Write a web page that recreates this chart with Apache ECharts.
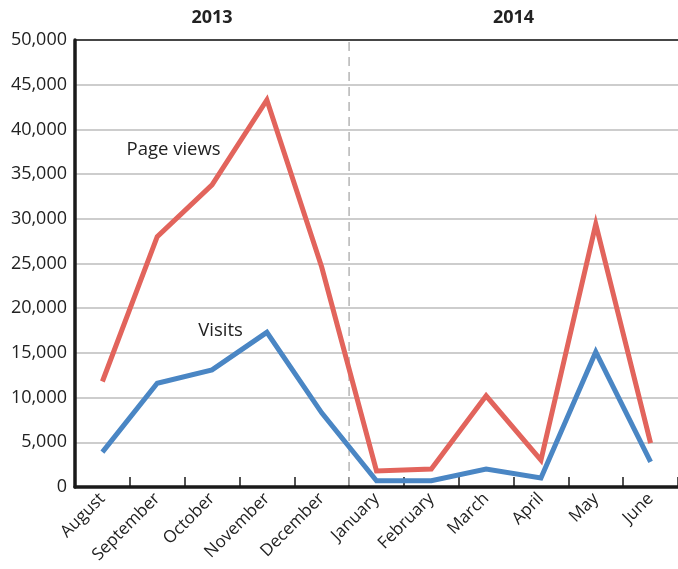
<!DOCTYPE html>
<html>
<head>
<meta charset="utf-8">
<script src="https://cdn.jsdelivr.net/npm/echarts@6/dist/echarts.min.js"></script>
<style>
  html, body { margin: 0; padding: 0; background: #fff; }
  #chart { width: 678px; height: 569px; }
</style>
</head>
<body>
<div id="chart"></div>
<script>
// Monthly site traffic, August 2013 – June 2014
const months = ['August', 'September', 'October', 'November', 'December',
                'January', 'February', 'March', 'April', 'May', 'June'];
const pageViews = [11800, 28000, 33800, 43300, 24600, 1800, 2000, 10200, 3000, 29400, 4900];
const visits = [3900, 11600, 13100, 17300, 8300, 700, 700, 2000, 1000, 15100, 2800];
const yearLabels = ['2013', '2014'];
const yearSplitIndex = 5; // first month of 2014

const FONT = '"Open Sans", "Noto Sans", sans-serif';
const RED = '#e2645c';
const BLUE = '#4a86c4';

const chart = echarts.init(document.getElementById('chart'), null, { renderer: 'canvas' });

const option = {
  animation: false,
  grid: { left: 75, top: 40, width: 607, bottom: 82, containLabel: false },
  xAxis: [
    {
      type: 'category',
      data: months,
      boundaryGap: true,
      axisLine: { lineStyle: { color: '#1a1a1a', width: 3.5 } },
      axisTick: { show: true, inside: true, length: 10, alignWithLabel: false,
                  lineStyle: { color: '#1a1a1a', width: 1.5 } },
      axisLabel: { rotate: 45, fontFamily: FONT, fontSize: 17, color: '#222', margin: 9, interval: 0 },
      splitLine: { show: false }
    },
    {
      type: 'category',
      data: months,
      position: 'top',
      boundaryGap: true,
      axisLine: { lineStyle: { color: '#1a1a1a', width: 1.5 } },
      axisTick: { show: false },
      axisLabel: { show: false }
    }
  ],
  yAxis: {
    type: 'value',
    min: 0, max: 50000, interval: 5000,
    axisLine: { show: true, lineStyle: { color: '#1a1a1a', width: 3.5 } },
    axisTick: { show: false },
    axisLabel: {
      fontFamily: FONT, fontSize: 18, color: '#222', margin: 8,
      formatter: v => v.toLocaleString('en-US')
    },
    splitLine: { lineStyle: { color: '#bdbdbd', width: 1.5 } }
  },
  series: [
    {
      name: 'Page views', type: 'line', data: pageViews,
      symbol: 'none', lineStyle: { color: RED, width: 5, cap: 'butt', join: 'miter' },
      z: 3
    },
    {
      name: 'Visits', type: 'line', data: visits,
      symbol: 'none', lineStyle: { color: BLUE, width: 5, cap: 'butt', join: 'miter' },
      z: 4
    }
  ]
};

chart.setOption(option);

// Year headers, series captions and the dashed divider, placed via the axes
function drawOverlays() {
  const px = i => chart.convertToPixel({ xAxisIndex: 0 }, i);
  const py = v => chart.convertToPixel({ yAxisIndex: 0 }, v);
  const step = px(1) - px(0);
  // fractional category position (category scale snaps to whole indices)
  const fx = f => px(0) + f * step;
  const leftEdge = px(0) - step / 2;
  const splitX = (px(yearSplitIndex - 1) + px(yearSplitIndex)) / 2;
  const rightEdge = px(months.length - 1) + step / 2;
  const topY = py(50000);
  const botY = py(0);

  const caption = (text, f, v) => ({
    type: 'text', silent: true, x: fx(f), y: py(v),
    style: { text, fontFamily: FONT, fontSize: 18.5, fill: '#222',
             align: 'left', verticalAlign: 'middle' }
  });
  const yearText = (text, cx) => ({
    type: 'text', silent: true, x: cx, y: 18,
    style: { text, fontFamily: FONT, fontWeight: 'bold', fontSize: 18,
             fill: '#222', align: 'center', verticalAlign: 'middle' }
  });

  chart.setOption({
    graphic: [
      {
        type: 'line', silent: true, z: 1,
        shape: { x1: splitX, y1: topY + 2, x2: splitX, y2: botY - 2 },
        style: { stroke: '#b5b5b5', lineWidth: 1.5, lineDash: [9, 6] }
      },
      yearText(yearLabels[0], (leftEdge + splitX) / 2),
      yearText(yearLabels[1], (splitX + rightEdge) / 2),
      caption('Page views', 0.44, 37700),
      caption('Visits', 1.75, 17450)
    ]
  });
}
drawOverlays();
</script>
</body>
</html>
